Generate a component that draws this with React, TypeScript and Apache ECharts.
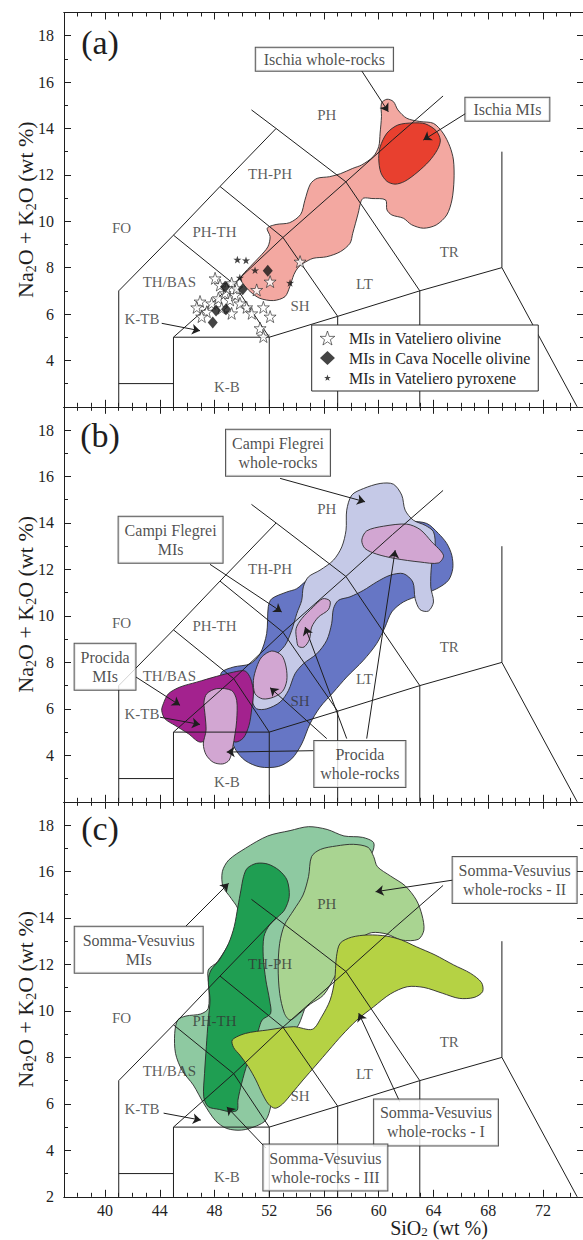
import React, { useEffect, useRef } from 'react';
import * as echarts from 'echarts';

const FONT = 'Liberation Serif';

// ---- axis ticks ----
const xMajorTicks = [40, 44, 48, 52, 56, 60, 64, 68, 72];
const xMinorTicks = [38, 39, 41, 42, 43, 45, 46, 47, 49, 50, 51, 53, 54, 55, 57, 58, 59, 61, 62, 63, 65, 66, 67, 69, 70, 71, 73, 74];
const yMajorTicks = [2, 4, 6, 8, 10, 12, 14, 16, 18];
const yMinorTicks = [3, 5, 7, 9, 11, 13, 15, 17];
const yLabelsAB = [4, 6, 8, 10, 12, 14, 16, 18];
const yLabelsC = [2, 4, 6, 8, 10, 12, 14, 16, 18];

// ---- TAS boundaries ----
const tasLines: number[][][] = [
  [[41, 2], [41, 7], [45, 9.4], [48.4, 11.5], [52.5, 14]],
  [[50.7, 14.8], [52.5, 14], [57.6, 11.7], [63, 7], [63, 2]],
  [[41, 3], [45, 3]],
  [[45, 2], [45, 5], [52, 5], [52, 2]],
  [[45, 5], [49.4, 7.3], [53, 9.3], [57.6, 11.7], [61, 13.5], [64.7, 15.4]],
  [[45, 9.4], [49.4, 7.3], [52, 5]],
  [[48.4, 11.5], [53, 9.3], [57, 5.9], [57, 2]],
  [[52, 5], [57, 5.9], [63, 7], [69, 8]],
  [[69, 13], [69, 8], [74.5, 2]],
];

const fieldLabels = [
  { name: 'FO', value: [41.2, 9.7] },
  { name: 'TH/BAS', value: [44.7, 7.4] },
  { name: 'PH-TH', value: [48.0, 9.55] },
  { name: 'TH-PH', value: [52.06, 12.03] },
  { name: 'PH', value: [56.2, 14.6] },
  { name: 'K-TB', value: [42.7, 5.77] },
  { name: 'K-B', value: [48.9, 2.85] },
  { name: 'SH', value: [54.25, 6.35] },
  { name: 'LT', value: [58.95, 7.28] },
  { name: 'TR', value: [65.15, 8.68] },
];

// ---- panel (a) ----
const ischiaWR = [[49.9, 7.55], [50.6, 8.04], [51.3, 8.47], [51.9, 8.9], [52.06, 9.34], [51.85, 9.7], [52.5, 9.86], [53.5, 9.94], [54.3, 10.3], [54.6, 10.9], [55.0, 11.6], [55.5, 11.85], [56.4, 11.92], [57.2, 12.05], [58.1, 12.28], [58.76, 12.43], [59.6, 12.79], [60.0, 13.22], [60.1, 13.8], [60.2, 14.51], [60.2, 15.09], [60.6, 15.26], [61.07, 15.16], [61.4, 14.8], [62.05, 14.44], [63.0, 14.3], [64.0, 14.22], [64.7, 13.8], [65.2, 13.22], [65.46, 12.64], [65.5, 11.78], [65.35, 10.92], [64.97, 10.27], [64.2, 9.84], [63.27, 9.7], [62.4, 9.85], [61.8, 10.13], [60.96, 10.27], [60.6, 10.49], [60.5, 10.92], [59.5, 10.98], [58.9, 11.0], [58.7, 10.85], [58.5, 10.35], [58.1, 9.48], [57.9, 9.05], [57.2, 8.69], [56.2, 8.47], [55.2, 8.4], [54.5, 8.19], [54.1, 8.0], [53.8, 7.7], [53.5, 7.18], [53.15, 6.75], [52.3, 6.58], [51.3, 6.68], [50.6, 6.97], [50.1, 7.3]];
const ischiaMI = [[60.1, 13.2], [60.6, 13.8], [61.4, 14.15], [62.5, 14.24], [63.4, 14.2], [64.2, 13.9], [64.5, 13.5], [64.3, 13.1], [63.7, 12.6], [62.8, 12.1], [61.9, 11.72], [61.2, 11.6], [60.6, 11.72], [60.15, 12.1], [60.0, 12.7]];

const vatelieroOlivine = [[48.04, 7.54], [48.4, 7.25], [49.25, 7.33], [52.06, 7.4], [51.08, 7.04], [46.94, 6.54], [46.7, 6.29], [47.43, 6.1], [47.79, 6.46], [48.28, 6.68], [48.77, 6.9], [49.13, 6.61], [49.5, 6.82], [49.86, 6.46], [49.25, 6.03], [50.35, 6.29], [50.72, 6.03], [51.57, 6.29], [52.06, 5.89], [51.33, 5.39], [51.57, 5.03], [54.25, 8.26], [48.52, 6.25], [49.62, 7.11], [47.06, 5.89], [48.89, 7.11]];
const cavaNocelleOlivine = [[48.77, 7.18], [50.06, 7.07], [51.89, 7.87], [48.11, 6.15], [48.84, 6.21], [47.87, 5.63]];
const vatelieroPyroxene = [[49.67, 8.33], [50.3, 8.3], [50.96, 7.87], [53.52, 7.33], [49.85, 7.55]];

const annotationsA = [
  { name: 'Ischia whole-rocks', value: [56.03, 16.98] },
  { name: 'Ischia MIs', value: [69.4, 14.83] },
];
const arrowsA = [
  [[58.76, 16.48], [60.7, 14.72]],
  [[66.39, 14.66], [63.26, 13.5]],
  [[44.14, 5.6], [46.94, 5.28]],
];

// ---- panel (b) ----
const cfMI = [[48.52, 7.58], [49.38, 7.8], [50.6, 7.94], [51.33, 8.37], [51.81, 9.24], [51.93, 10.4], [52.18, 10.74], [53.28, 11.03], [54.0, 11.17], [54.74, 11.53], [55.71, 11.9], [57.17, 12.4], [58.64, 13.12], [59.85, 13.55], [61.07, 13.83], [62.29, 14.05], [63.51, 13.98], [64.36, 13.55], [64.97, 13.12], [65.34, 12.61], [65.41, 12.04], [65.09, 11.53], [64.24, 11.17], [63.02, 10.89], [61.8, 10.6], [60.95, 10.17], [60.46, 9.52], [59.85, 8.81], [58.88, 8.09], [57.66, 7.37], [56.69, 6.72], [55.71, 6.07], [54.98, 5.36], [54.37, 4.49], [53.64, 3.85], [52.67, 3.52], [51.33, 3.5], [50.23, 3.78], [49.5, 4.28], [49.13, 4.93], [48.84, 5.8], [48.6, 6.65], [48.45, 7.22]];
const cfWR = [[50.79, 6.29], [50.96, 7.08], [51.45, 7.8], [52.3, 8.23], [53.15, 8.73], [53.64, 9.38], [54.01, 10.1], [54.37, 10.67], [54.49, 11.25], [54.86, 11.68], [55.71, 11.97], [56.69, 12.4], [57.3, 12.97], [57.61, 13.69], [57.66, 14.55], [58.03, 15.2], [58.88, 15.48], [60.1, 15.7], [61.07, 15.67], [61.68, 15.2], [61.93, 14.55], [62.53, 14.12], [63.39, 13.9], [64.0, 13.62], [64.12, 12.97], [63.87, 12.25], [63.8, 11.25], [64.0, 10.6], [63.63, 10.21], [63.02, 10.27], [62.66, 10.74], [62.49, 11.46], [61.8, 11.82], [60.83, 11.75], [59.85, 11.46], [58.88, 11.1], [57.9, 10.82], [57.05, 10.67], [56.69, 10.31], [56.56, 9.67], [56.2, 8.95], [55.47, 8.37], [54.49, 7.94], [53.88, 7.51], [53.4, 6.79], [52.79, 6.29], [51.81, 6.0], [51.08, 6.0]];
const procMI = [[44.26, 6.22], [44.63, 6.65], [45.48, 6.94], [46.7, 7.15], [48.16, 7.4], [49.38, 7.58], [50.23, 7.63], [50.64, 7.3], [50.84, 6.72], [50.72, 6.0], [50.52, 5.29], [50.11, 4.75], [49.5, 4.57], [48.89, 4.85], [47.91, 4.78], [46.94, 4.57], [46.09, 4.93], [45.11, 5.29], [44.38, 5.57], [44.14, 5.93]];
const procWR1 = [[47.43, 6.65], [48.16, 6.87], [49.25, 6.79], [49.62, 6.36], [49.62, 5.5], [49.5, 4.93], [49.33, 4.35], [49.08, 3.8], [48.6, 3.63], [47.91, 3.7], [47.38, 4.03], [47.18, 4.49], [47.38, 5.07], [47.31, 5.72], [47.23, 6.29]];
const procWR2 = [[50.96, 6.65], [50.84, 7.22], [51.08, 7.8], [51.45, 8.23], [52.18, 8.49], [52.91, 8.3], [53.23, 7.8], [53.28, 7.22], [52.98, 6.76], [52.3, 6.5], [51.52, 6.43]];
const procWR3 = [[54.01, 8.95], [53.96, 9.45], [54.37, 9.88], [55.22, 10.39], [55.91, 10.74], [56.44, 10.64], [56.32, 10.27], [55.59, 9.95], [55.1, 9.52], [54.93, 8.98], [54.54, 8.66], [54.13, 8.69]];
const procWR4 = [[58.76, 13.26], [59.12, 13.66], [60.34, 13.86], [62.05, 13.95], [63.02, 13.72], [63.87, 13.19], [64.73, 12.61], [64.36, 12.28], [63.02, 12.32], [61.2, 12.47], [59.85, 12.66], [59.0, 12.9]];

const annotationsB = [
  { name: 'Campi Flegrei\nwhole-rocks', value: [52.64, 17.02] },
  { name: 'Campi Flegrei\nMIs', value: [44.79, 13.28] },
  { name: 'Procida\nMIs', value: [40.0, 7.81] },
  { name: 'Procida\nwhole-rocks', value: [58.62, 3.63] },
];
const arrowsB = [
  [[52.79, 15.92], [59.0, 14.91]],
  [[47.67, 12.22], [52.91, 10.17]],
  [[42.26, 7.37], [45.48, 6.15]],
  [[44.02, 5.64], [46.94, 5.33]],
  [[55.22, 4.2], [48.89, 4.14]],
  [[56.2, 4.72], [52.06, 6.91]],
  [[57.66, 4.72], [54.62, 9.52]],
  [[59.12, 4.72], [61.2, 12.83]],
];

// ---- panel (c) ----
const svMI = [[48.57, 15.99], [49.03, 16.49], [50.26, 17.0], [51.89, 17.53], [53.52, 17.76], [54.87, 17.93], [56.23, 17.81], [57.46, 17.53], [58.81, 17.47], [59.63, 17.24], [59.49, 16.78], [58.41, 16.06], [57.32, 14.92], [56.5, 13.63], [55.96, 12.48], [55.42, 11.47], [54.87, 10.61], [54.47, 9.89], [54.06, 9.32], [53.11, 8.75], [52.56, 7.89], [52.29, 6.88], [52.1, 5.88], [51.75, 5.3], [51.07, 5.05], [49.98, 4.87], [48.9, 4.94], [48.08, 5.27], [47.21, 6.02], [46.45, 6.81], [45.64, 7.43], [45.15, 8.17], [45.09, 9.03], [45.31, 9.61], [45.91, 9.78], [47.0, 9.87], [47.54, 10.11], [47.59, 11.04], [47.54, 11.76], [48.22, 12.12], [49.3, 13.2], [49.71, 14.34], [49.22, 14.84], [48.62, 15.35]];
const svII = [[55.09, 16.64], [55.74, 16.95], [56.91, 17.1], [58.14, 17.17], [59.22, 17.04], [59.63, 16.64], [59.9, 16.21], [60.85, 15.81], [61.94, 15.38], [62.75, 14.77], [63.16, 14.13], [63.3, 13.48], [62.89, 13.08], [61.67, 13.05], [60.58, 13.31], [59.49, 13.37], [58.68, 13.12], [57.59, 12.33], [56.78, 11.47], [55.96, 10.68], [55.01, 10.3], [54.2, 9.89], [53.52, 9.61], [53.11, 9.89], [52.76, 10.76], [52.65, 11.9], [52.76, 12.91], [53.11, 13.7], [53.79, 14.34], [54.47, 14.99], [54.87, 15.78]];
const svIII = [[50.12, 15.78], [50.39, 16.14], [51.07, 16.35], [51.89, 16.32], [52.7, 16.06], [53.3, 15.63], [53.46, 14.92], [53.11, 14.34], [52.65, 14.06], [52.02, 13.7], [51.61, 13.2], [51.56, 12.33], [51.75, 11.33], [52.02, 10.47], [52.1, 9.89], [51.48, 9.61], [51.21, 9.18], [50.8, 8.46], [50.39, 7.74], [49.98, 6.88], [49.71, 6.16], [49.66, 5.73], [49.17, 5.66], [48.35, 5.76], [47.54, 5.88], [47.21, 6.31], [47.27, 7.31], [47.4, 8.46], [47.54, 9.61], [47.67, 10.47], [47.54, 11.33], [47.75, 11.76], [48.35, 12.19], [49.03, 12.91], [49.44, 13.63], [49.71, 14.49], [49.93, 15.2]];
const svI = [[49.3, 8.75], [50.26, 9.03], [51.89, 9.18], [53.79, 9.32], [55.15, 9.21], [55.83, 9.75], [56.45, 10.47], [56.78, 11.33], [56.91, 12.33], [57.18, 12.91], [58.0, 13.17], [59.22, 13.27], [60.58, 13.22], [61.67, 13.05], [62.75, 12.76], [64.11, 12.41], [65.47, 11.98], [66.7, 11.62], [67.51, 11.22], [67.59, 10.83], [66.97, 10.58], [65.88, 10.54], [64.66, 10.76], [63.3, 11.01], [62.08, 11.04], [60.85, 10.73], [59.63, 10.18], [58.41, 9.61], [57.32, 8.96], [56.37, 8.32], [55.42, 7.67], [54.47, 7.03], [53.65, 6.45], [52.97, 5.99], [52.43, 5.81], [51.94, 5.99], [51.48, 6.45], [51.02, 7.03], [50.47, 7.6], [49.85, 8.1], [49.39, 8.43]];

const annotationsC = [
  { name: 'Somma-Vesuvius\nMIs', value: [42.46, 12.63] },
  { name: 'Somma-Vesuvius\nwhole-rocks - II', value: [69.93, 15.63] },
  { name: 'Somma-Vesuvius\nwhole-rocks - I', value: [64.18, 5.2] },
  { name: 'Somma-Vesuvius\nwhole-rocks - III', value: [56.1, 3.26] },
];
const arrowsC = [
  [[45.91, 13.65], [49.03, 15.49]],
  [[65.42, 15.63], [59.77, 15.13]],
  [[61.53, 6.1], [58.54, 9.9]],
  [[51.75, 4.1], [48.9, 5.87]],
  [[44.28, 5.6], [47.0, 5.3]],
];

const STAR = 'path://M50,0L61.8,35.1L97.6,34.5L68.8,56.3L79.4,90.5L50,70L20.6,90.5L31.2,56.3L2.4,34.5L38.2,35.1Z';
const SMALL_STAR = 'path://M0,0L0.1,0L0,0.1Z M100,100L99.9,100L100,99.9Z M50,25L55.9,42.6L73.8,42.2L59.4,53.2L64.7,70.3L50,60L35.3,70.3L40.6,53.2L26.2,42.2L44.1,42.6Z';

const INK = '#1e1e1e';

function xAxes(g: number, withLabels: boolean) {
  const common: any = {
    type: 'value', gridIndex: g, min: 37, max: 75, splitLine: { show: false },
    axisLine: { show: true, onZero: false, lineStyle: { color: INK, width: 1 } },
  };
  const major = (position: string) => ({ ...common, position, axisTick: { show: true, inside: true, length: 7, customValues: xMajorTicks, lineStyle: { color: INK, width: 1 } }, axisLabel: { show: false } });
  const minor = (position: string) => ({ ...common, position, axisTick: { show: true, inside: true, length: 4, customValues: xMinorTicks, lineStyle: { color: INK, width: 1 } }, axisLabel: { show: false } });
  const bottom: any = major('bottom');
  if (withLabels) {
    bottom.axisLabel = { show: true, customValues: xMajorTicks, fontSize: 16, lineHeight: 13, fontFamily: FONT, color: INK, margin: 7 };
    bottom.name = '{a|SiO}{s|2}{a| (wt %)}';
    bottom.nameLocation = 'middle';
    bottom.nameGap = 21;
    bottom.nameMoveOverlap = false;
    bottom.nameTextStyle = {
      padding: [0, 0, 0, 230],
      rich: {
        a: { fontSize: 20, fontFamily: FONT, color: INK, lineHeight: 20 },
        s: { fontSize: 13, fontFamily: FONT, color: INK, lineHeight: 10, verticalAlign: 'bottom' },
      },
    };
  }
  return [bottom, minor('bottom'), major('top'), minor('top')];
}

function yAxes(g: number, labels: number[]) {
  const common: any = {
    type: 'value', gridIndex: g, min: 2, max: 19, splitLine: { show: false },
    axisLine: { show: true, onZero: false, lineStyle: { color: INK, width: 1 } },
  };
  const major = (position: string) => ({ ...common, position, axisTick: { show: true, inside: true, length: 7, customValues: yMajorTicks, lineStyle: { color: INK, width: 1 } }, axisLabel: { show: false } });
  const minor = (position: string) => ({ ...common, position, axisTick: { show: true, inside: true, length: 4, customValues: yMinorTicks, lineStyle: { color: INK, width: 1 } }, axisLabel: { show: false } });
  const left: any = major('left');
  left.axisLabel = { show: true, customValues: labels, fontSize: 16, fontFamily: FONT, color: INK, margin: 10 };
  left.name = '{a|Na}{s|2}{a|O + K}{s|2}{a|O (wt %)}';
  left.nameLocation = 'middle';
  left.nameGap = 26;
  left.nameMoveOverlap = false;
  left.nameTextStyle = {
    rich: {
      a: { fontSize: 22, fontFamily: FONT, color: INK, lineHeight: 26 },
      s: { fontSize: 14, fontFamily: FONT, color: INK, lineHeight: 14, verticalAlign: 'bottom' },
    },
  };
  return [left, minor('left'), major('right'), minor('right')];
}

function polygonSeries(pts: number[][], g: number, fill: string, z: number) {
  return {
    type: 'custom', coordinateSystem: 'cartesian2d', xAxisIndex: 4 * g, yAxisIndex: 4 * g,
    z, silent: true, data: [pts[0]],
    renderItem: (_params: any, api: any) => ({
      type: 'polygon',
      shape: { points: pts.map((p) => api.coord(p)), smooth: 0.3 },
      style: { fill, stroke: '#2a2a2a', lineWidth: 0.9 },
    }),
  };
}

function panelSeries(g: number, polys: { pts: number[][]; fill: string }[], annotations: any[], arrows: number[][][]) {
  const s: any[] = [];
  polys.forEach((p, i) => s.push(polygonSeries(p.pts, g, p.fill, 2 + i * 0.1)));
  tasLines.forEach((l) => s.push({
    type: 'line', xAxisIndex: 4 * g, yAxisIndex: 4 * g, data: l, symbol: 'none', silent: true, z: 5,
    lineStyle: { color: INK, width: 1 },
  }));
  s.push({
    type: 'scatter', xAxisIndex: 4 * g, yAxisIndex: 4 * g, data: fieldLabels, symbolSize: 1,
    itemStyle: { color: 'transparent' }, silent: true, z: 6,
    label: { show: true, position: 'inside', formatter: '{b}', fontFamily: FONT, fontSize: 15, color: '#333' },
  });
  s.push({
    type: 'scatter', xAxisIndex: 4 * g, yAxisIndex: 4 * g, data: annotations, symbolSize: 1,
    itemStyle: { color: 'transparent' }, silent: true, z: 8,
    label: {
      show: true, position: 'inside', formatter: '{b}', fontFamily: FONT, fontSize: 16, color: INK,
      backgroundColor: '#fff', borderColor: '#2a2a2a', borderWidth: 1, padding: [4, 6], lineHeight: 19, align: 'center',
    },
    markLine: {
      silent: true, symbol: ['none', 'arrow'], symbolSize: 8, animation: false,
      lineStyle: { color: INK, width: 1, type: 'solid' }, label: { show: false },
      data: arrows.map(([a, b]) => [{ coord: a }, { coord: b }]),
    },
  });
  return s;
}

function buildOption() {
  const series: any[] = [
    ...panelSeries(0, [{ pts: ischiaWR, fill: '#f3a8a1' }, { pts: ischiaMI, fill: '#e8402f' }],
      annotationsA.map((a) => ({ ...a, label: { padding: [3, 8], lineHeight: 17 } })), arrowsA),
    ...panelSeries(1, [
      { pts: cfMI, fill: '#6676c5' }, { pts: cfWR, fill: '#c5c9e7' }, { pts: procMI, fill: '#a3228e' },
      { pts: procWR1, fill: '#d2a6d2' }, { pts: procWR2, fill: '#d2a6d2' }, { pts: procWR3, fill: '#d2a6d2' }, { pts: procWR4, fill: '#d2a6d2' },
    ], annotationsB, arrowsB),
    ...panelSeries(2, [
      { pts: svMI, fill: '#8ec9a1' }, { pts: svII, fill: '#a9d491' }, { pts: svIII, fill: '#1f9e52' }, { pts: svI, fill: '#b5d244' },
    ], annotationsC.map((a, i) => (i === 0 ? { ...a, label: { padding: [4, 8] } } : a)), arrowsC),
    {
      type: 'scatter', name: 'MIs in Vateliero olivine', xAxisIndex: 0, yAxisIndex: 0, data: vatelieroOlivine,
      symbol: STAR, symbolSize: 12, z: 7, silent: true,
      itemStyle: { color: '#fff', borderColor: '#222', borderWidth: 0.8 },
    },
    {
      type: 'scatter', name: 'MIs in Cava Nocelle olivine', xAxisIndex: 0, yAxisIndex: 0, data: cavaNocelleOlivine,
      symbol: 'diamond', symbolSize: [10, 12], z: 7, silent: true, itemStyle: { color: '#151515' },
    },
    {
      type: 'scatter', name: 'MIs in Vateliero pyroxene', xAxisIndex: 0, yAxisIndex: 0, data: vatelieroPyroxene,
      symbol: SMALL_STAR, symbolSize: 17, z: 7, silent: true, itemStyle: { color: '#151515' },
    },
  ];

  return {
    animation: false,
    backgroundColor: '#fff',
    textStyle: { fontFamily: FONT },
    grid: [
      { left: 64, right: 6, top: 12.5, height: 394.3, outerBoundsMode: 'none' },
      { left: 64, right: 6, top: 406.8, height: 395, outerBoundsMode: 'none' },
      { left: 64, right: 6, top: 801.8, height: 395, outerBoundsMode: 'none' },
    ],
    xAxis: [...xAxes(0, false), ...xAxes(1, false), ...xAxes(2, true)],
    yAxis: [...yAxes(0, yLabelsAB), ...yAxes(1, yLabelsAB), ...yAxes(2, yLabelsC)],
    legend: {
      z: 20, left: 311.7, top: 325, orient: 'vertical', selectedMode: false,
      itemWidth: 15, itemHeight: 14, itemGap: 4, padding: [5, 8, 5, 8],
      borderColor: '#2a2a2a', borderWidth: 1, backgroundColor: '#fff',
      textStyle: { fontFamily: FONT, fontSize: 16, color: INK, padding: [0, 0, 0, 9] },
      data: [
        { name: 'MIs in Vateliero olivine', icon: STAR, itemStyle: { borderWidth: 0.8 } },
        { name: 'MIs in Cava Nocelle olivine', icon: 'diamond' },
        { name: 'MIs in Vateliero pyroxene', icon: SMALL_STAR },
      ],
    },
    graphic: [
      { type: 'text', x: 100, y: 42, z: 20, style: { text: '(a)', fontSize: 34, fontFamily: FONT, fill: INK, textAlign: 'center', textVerticalAlign: 'middle' } },
      { type: 'text', x: 100, y: 435, z: 20, style: { text: '(b)', fontSize: 34, fontFamily: FONT, fill: INK, textAlign: 'center', textVerticalAlign: 'middle' } },
      { type: 'text', x: 100, y: 828, z: 20, style: { text: '(c)', fontSize: 34, fontFamily: FONT, fill: INK, textAlign: 'center', textVerticalAlign: 'middle' } },
    ],
    series,
  };
}

export default function App() {
  const ref = useRef<HTMLDivElement>(null);
  useEffect(() => {
    if (!ref.current) return;
    const chart = echarts.init(ref.current, null, { renderer: 'svg' });
    chart.setOption(buildOption() as any);
    return () => chart.dispose();
  }, []);
  return (
    <div style={{ position: 'fixed', left: 0, top: 0, width: 583, height: 1240, overflow: 'hidden', background: '#fff' }}>
      <div ref={ref} style={{ width: 590, height: 1240 }} />
    </div>
  );
}
